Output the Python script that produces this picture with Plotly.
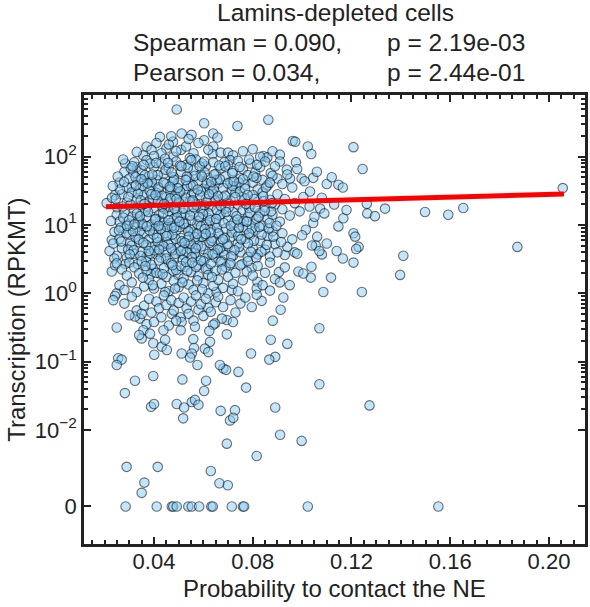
import math
import plotly.graph_objects as go

# ---------------- data (contact probability, log10 RPKMT) ----------------
genes_above_100 = [
    (0.0492, 2.69), (0.0863, 2.54), (0.0603, 2.49), (0.0738, 2.45), (0.0512, 2.34), (0.0552, 2.32),
    (0.0640, 2.34), (0.0424, 2.29), (0.0657, 2.28), (0.0603, 2.24), (0.0477, 2.22), (0.0410, 2.20),
    (0.0962, 2.23), (0.0972, 2.22), (0.0370, 2.15), (0.0450, 2.12), (0.0390, 2.10), (0.0510, 2.10),
    (0.0640, 2.15), (0.1023, 2.15), (0.1208, 2.14), (0.0800, 2.11), (0.0638, 2.04), (0.1037, 2.04),
    (0.0356, 2.02), (0.0478, 2.00), (0.0843, 2.01), (0.0859, 1.99), (0.0830, 2.00), (0.0430, 2.05),
    (0.0460, 2.18), (0.0490, 2.08), (0.0530, 2.15), (0.0560, 2.05), (0.0580, 2.20), (0.0620, 2.10),
    (0.0670, 2.06), (0.0700, 2.06), (0.0720, 2.02), (0.0760, 2.08), (0.0540, 2.26), (0.0470, 2.30),
    (0.0880, 2.08), (0.0910, 2.03), (0.0330, 2.07), (0.0400, 2.01),
]

genes_30_to_100 = [
    (0.0283, 1.90), (0.0316, 1.76), (0.0343, 1.66), (0.0310, 1.56), (0.0330, 1.85), (0.1245, 1.82),
    (0.0975, 1.92), (0.0910, 1.93), (0.0938, 1.81), (0.0708, 1.95), (0.0873, 1.76), (0.0900, 1.68),
    (0.0951, 1.68), (0.0998, 1.68), (0.1045, 1.69), (0.1100, 1.60), (0.1147, 1.59), (0.1165, 1.55),
    (0.2056, 1.54), (0.0260, 1.62), (0.0280, 1.78), (0.0290, 1.55), (0.0300, 1.68), (0.0320, 1.92),
    (0.0340, 1.52), (0.0350, 1.80), (0.0360, 1.64), (0.0370, 1.95), (0.0380, 1.71), (0.0390, 1.58),
    (0.0400, 1.85), (0.0410, 1.66), (0.0420, 1.52), (0.0430, 1.90), (0.0440, 1.75), (0.0450, 1.60),
    (0.0460, 1.83), (0.0470, 1.55), (0.0480, 1.70), (0.0490, 1.93), (0.0500, 1.62), (0.0510, 1.78),
    (0.0520, 1.51), (0.0530, 1.88), (0.0540, 1.68), (0.0550, 1.57), (0.0560, 1.80), (0.0570, 1.96),
    (0.0580, 1.64), (0.0590, 1.74), (0.0600, 1.53), (0.0610, 1.86), (0.0620, 1.69), (0.0630, 1.58),
    (0.0640, 1.92), (0.0650, 1.75), (0.0660, 1.61), (0.0670, 1.83), (0.0680, 1.54), (0.0690, 1.71),
    (0.0700, 1.88), (0.0710, 1.63), (0.0720, 1.79), (0.0730, 1.56), (0.0740, 1.94), (0.0750, 1.68),
    (0.0760, 1.82), (0.0770, 1.59), (0.0780, 1.73), (0.0790, 1.90), (0.0800, 1.62), (0.0810, 1.77),
    (0.0820, 1.52), (0.0830, 1.85), (0.0840, 1.66), (0.0850, 1.93), (0.0860, 1.58), (0.0880, 1.72),
    (0.0890, 1.86), (0.0920, 1.60), (0.0940, 1.74), (0.0960, 1.55), (0.0980, 1.82), (0.1010, 1.64),
    (0.1060, 1.78), (0.1120, 1.70), (0.0415, 1.73), (0.0445, 1.97), (0.0475, 1.63), (0.0505, 1.87),
    (0.0535, 1.57), (0.0565, 1.72), (0.0595, 1.90), (0.0625, 1.55), (0.0655, 1.66), (0.0685, 1.92),
    (0.0715, 1.52), (0.0385, 1.90), (0.0355, 1.57), (0.0325, 1.70), (0.0465, 1.52), (0.0545, 1.98),
    (0.0605, 1.77), (0.0745, 1.62), (0.0785, 1.96), (0.0815, 1.69), (0.0275, 1.96),
]

genes_10_to_30 = [
    (0.0242, 1.44), (0.0208, 1.32), (0.0249, 1.15), (0.1262, 1.31), (0.1264, 1.17), (0.1295, 1.13),
    (0.1073, 1.24), (0.1090, 1.17), (0.1167, 1.10), (0.1005, 1.41), (0.1032, 1.49), (0.1336, 1.24),
    (0.1498, 1.19), (0.1592, 1.15), (0.1653, 1.25), (0.1045, 1.03), (0.0230, 1.40), (0.0250, 1.26),
    (0.0260, 1.05), (0.0270, 1.45), (0.0280, 1.18), (0.0290, 1.33), (0.0300, 1.02), (0.0310, 1.48),
    (0.0320, 1.22), (0.0330, 1.37), (0.0340, 1.08), (0.0350, 1.29), (0.0360, 1.44), (0.0370, 1.12),
    (0.0380, 1.35), (0.0390, 1.01), (0.0400, 1.25), (0.0410, 1.47), (0.0420, 1.15), (0.0430, 1.32),
    (0.0440, 1.04), (0.0450, 1.41), (0.0460, 1.20), (0.0470, 1.36), (0.0480, 1.09), (0.0490, 1.28),
    (0.0500, 1.46), (0.0510, 1.13), (0.0520, 1.34), (0.0530, 1.02), (0.0540, 1.23), (0.0550, 1.42),
    (0.0560, 1.17), (0.0570, 1.31), (0.0580, 1.06), (0.0590, 1.49), (0.0600, 1.21), (0.0610, 1.38),
    (0.0620, 1.10), (0.0630, 1.27), (0.0640, 1.45), (0.0650, 1.03), (0.0660, 1.33), (0.0670, 1.16),
    (0.0680, 1.40), (0.0690, 1.24), (0.0700, 1.07), (0.0710, 1.36), (0.0720, 1.19), (0.0730, 1.47),
    (0.0740, 1.30), (0.0750, 1.05), (0.0760, 1.22), (0.0770, 1.39), (0.0780, 1.12), (0.0790, 1.28),
    (0.0800, 1.44), (0.0810, 1.02), (0.0820, 1.34), (0.0830, 1.18), (0.0840, 1.48), (0.0850, 1.26),
    (0.0860, 1.08), (0.0870, 1.37), (0.0880, 1.15), (0.0890, 1.30), (0.0900, 1.45), (0.0910, 1.05),
    (0.0920, 1.23), (0.0930, 1.38), (0.0950, 1.14), (0.0970, 1.32), (0.0990, 1.20), (0.1030, 1.27),
    (0.1050, 1.12), (0.1080, 1.40), (0.1130, 1.30), (0.1180, 1.22), (0.0245, 1.38), (0.0275, 1.11),
    (0.0305, 1.30), (0.0335, 1.46), (0.0365, 1.21), (0.0395, 1.39), (0.0425, 1.06), (0.0455, 1.26),
    (0.0485, 1.43), (0.0515, 1.18), (0.0545, 1.35), (0.0575, 1.01), (0.0605, 1.29), (0.0635, 1.48),
    (0.0665, 1.14), (0.0695, 1.32), (0.0725, 1.04), (0.0755, 1.41), (0.0785, 1.25), (0.0815, 1.09),
    (0.0845, 1.35), (0.0875, 1.20), (0.0372, 1.27), (0.0408, 1.09), (0.0432, 1.43), (0.0468, 1.03),
    (0.0492, 1.19), (0.0528, 1.40), (0.0552, 1.07), (0.0588, 1.24), (0.0612, 1.01), (0.0648, 1.36),
    (0.0382, 1.50), (0.0442, 1.24), (0.0502, 1.33), (0.0562, 1.47), (0.0622, 1.17),
]

genes_3_to_10 = [
    (0.0229, 0.78), (0.0303, 0.74), (0.1015, 0.93), (0.1061, 0.83), (0.1100, 0.73), (0.1208, 0.88),
    (0.1215, 0.83), (0.1229, 0.68), (0.1147, 0.98), (0.1872, 0.68), (0.1410, 0.55), (0.1165, 0.51),
    (0.1219, 0.65), (0.1055, 0.70), (0.1080, 0.57), (0.1140, 0.62), (0.0930, 0.56), (0.0970, 0.60),
    (0.0220, 0.62), (0.0240, 0.90), (0.0250, 0.55), (0.0260, 0.80), (0.0270, 0.66), (0.0280, 0.95),
    (0.0290, 0.52), (0.0300, 0.86), (0.0310, 0.70), (0.0320, 0.58), (0.0330, 0.97), (0.0340, 0.75),
    (0.0350, 0.61), (0.0360, 0.88), (0.0370, 0.53), (0.0380, 0.79), (0.0390, 0.68), (0.0400, 0.94),
    (0.0410, 0.57), (0.0420, 0.83), (0.0430, 0.71), (0.0440, 0.99), (0.0450, 0.60), (0.0460, 0.85),
    (0.0470, 0.74), (0.0480, 0.51), (0.0490, 0.92), (0.0500, 0.67), (0.0510, 0.81), (0.0520, 0.56),
    (0.0530, 0.96), (0.0540, 0.72), (0.0550, 0.63), (0.0560, 0.89), (0.0570, 0.54), (0.0580, 0.78),
    (0.0590, 0.98), (0.0600, 0.65), (0.0610, 0.84), (0.0620, 0.58), (0.0630, 0.93), (0.0640, 0.70),
    (0.0650, 0.52), (0.0660, 0.87), (0.0670, 0.76), (0.0680, 0.62), (0.0690, 0.95), (0.0700, 0.69),
    (0.0710, 0.82), (0.0720, 0.55), (0.0730, 0.90), (0.0740, 0.73), (0.0750, 0.60), (0.0760, 0.97),
    (0.0770, 0.80), (0.0780, 0.53), (0.0790, 0.86), (0.0800, 0.66), (0.0810, 0.92), (0.0820, 0.57),
    (0.0830, 0.77), (0.0840, 0.99), (0.0850, 0.64), (0.0860, 0.84), (0.0870, 0.54), (0.0880, 0.91),
    (0.0890, 0.72), (0.0900, 0.60), (0.0920, 0.88), (0.0940, 0.68), (0.0960, 0.79), (0.0980, 0.58),
    (0.1000, 0.85), (0.1040, 0.70), (0.1070, 0.62), (0.0235, 0.73), (0.0265, 0.96), (0.0295, 0.64),
    (0.0325, 0.82), (0.0355, 0.99), (0.0385, 0.58), (0.0415, 0.75), (0.0445, 0.88), (0.0475, 0.63),
    (0.0505, 0.97), (0.0535, 0.78), (0.0565, 0.59), (0.0595, 0.83), (0.0625, 0.74), (0.0655, 0.96),
    (0.0685, 0.56), (0.0715, 0.89), (0.0745, 0.68), (0.0775, 0.94), (0.0805, 0.77), (0.0835, 0.61),
    (0.0865, 0.95), (0.0915, 0.75), (0.0368, 0.71), (0.0398, 0.86), (0.0428, 0.52), (0.0458, 0.72),
    (0.0488, 0.80), (0.0518, 0.64), (0.0548, 0.93), (0.0578, 0.70), (0.0608, 0.51), (0.0638, 0.81),
    (0.0668, 0.66), (0.0342, 0.91), (0.0472, 0.98), (0.0532, 0.60),
]

genes_dense_core = [
    (0.0262, 1.52), (0.0288, 0.88), (0.0296, 1.41), (0.0312, 1.12), (0.0318, 0.63), (0.0327, 1.58),
    (0.0338, 0.79), (0.0346, 1.36), (0.0352, 1.02), (0.0363, 1.73), (0.0368, 0.47), (0.0376, 1.19),
    (0.0383, 0.92), (0.0391, 1.63), (0.0396, 0.36), (0.0404, 1.08), (0.0412, 0.81), (0.0418, 1.55),
    (0.0424, 0.29), (0.0433, 1.27), (0.0438, 0.69), (0.0447, 1.81), (0.0453, 0.97), (0.0462, 0.44),
    (0.0466, 1.39), (0.0474, 0.86), (0.0481, 1.66), (0.0487, 0.58), (0.0494, 1.11), (0.0498, 0.27),
    (0.0506, 1.49), (0.0513, 0.76), (0.0519, 1.24), (0.0526, 0.39), (0.0533, 1.71), (0.0539, 0.91),
    (0.0546, 1.14), (0.0553, 0.53), (0.0558, 1.58), (0.0566, 0.82), (0.0572, 1.29), (0.0579, 0.41),
    (0.0585, 1.86), (0.0592, 0.69), (0.0598, 1.16), (0.0606, 0.94), (0.0613, 1.61), (0.0618, 0.35),
    (0.0627, 1.07), (0.0633, 0.77), (0.0641, 1.52), (0.0647, 0.59), (0.0654, 1.22), (0.0661, 0.88),
    (0.0667, 1.67), (0.0674, 0.47), (0.0682, 1.03), (0.0688, 1.43), (0.0697, 0.72), (0.0703, 1.26),
    (0.0711, 0.99), (0.0718, 1.57), (0.0726, 0.63), (0.0734, 1.13), (0.0741, 0.84), (0.0748, 1.49),
    (0.0757, 0.43), (0.0764, 1.06), (0.0772, 1.31), (0.0781, 0.73), (0.0788, 1.18), (0.0797, 0.95),
    (0.0806, 1.38), (0.0814, 0.52), (0.0823, 1.12), (0.0836, 0.86), (0.0848, 1.21), (0.0857, 0.71),
    (0.0868, 1.03), (0.0883, 0.83), (0.0258, 0.92), (0.0273, 1.27), (0.0284, 0.43), (0.0299, 1.07),
    (0.0306, 1.83), (0.0315, 0.91), (0.0331, 1.17), (0.0345, 0.55), (0.0358, 1.88), (0.0371, 0.98),
    (0.0389, 1.45), (0.0402, 0.63), (0.0416, 1.35), (0.0427, 0.94), (0.0439, 1.62), (0.0449, 0.51),
    (0.0458, 1.07), (0.0471, 1.77), (0.0482, 0.96), (0.0496, 1.54), (0.0509, 0.62), (0.0521, 1.02),
    (0.0537, 1.84), (0.0549, 0.73), (0.0561, 1.26), (0.0574, 0.87), (0.0587, 1.44), (0.0601, 0.47),
    (0.0616, 1.33), (0.0629, 0.89), (0.0644, 1.74), (0.0658, 0.64), (0.0671, 1.28), (0.0686, 0.81),
    (0.0699, 1.61), (0.0713, 0.54), (0.0729, 1.41), (0.0744, 0.96), (0.0761, 1.67), (0.0776, 1.05),
    (0.0792, 0.61), (0.0809, 1.26), (0.0827, 0.97), (0.0853, 1.55), (0.0878, 1.32), (0.0896, 0.99),
    (0.0343, 1.13), (0.0357, 0.74), (0.0374, 1.61), (0.0387, 0.28), (0.0409, 1.91), (0.0421, 0.64),
    (0.0437, 1.17), (0.0451, 0.84), (0.0464, 1.56), (0.0478, 0.33), (0.0491, 1.38), (0.0503, 1.05),
    (0.0517, 0.49), (0.0529, 1.66), (0.0541, 0.83), (0.0556, 1.36), (0.0569, 0.66), (0.0582, 1.12),
    (0.0594, 1.71), (0.0609, 0.87), (0.0623, 1.45), (0.0637, 0.57), (0.0652, 1.09), (0.0664, 1.87),
    (0.0679, 0.79), (0.0692, 1.19), (0.0707, 0.41), (0.0723, 1.64), (0.0738, 1.08), (0.0753, 0.79),
    (0.0769, 1.53), (0.0785, 0.88), (0.0803, 1.71), (0.0226, 1.06), (0.0233, 1.57), (0.0239, 0.51),
    (0.0253, 1.71), (0.0267, 0.76), (0.0279, 1.63), (0.0291, 0.99), (0.0302, 0.57), (0.0313, 1.86),
    (0.0321, 1.01), (0.0334, 0.43), (0.0349, 1.67), (0.0361, 1.31), (0.0379, 0.62), (0.0393, 1.74),
    (0.0406, 1.44), (0.0419, 0.99), (0.0441, 1.31), (0.0457, 1.91), (0.0469, 0.66), (0.0483, 1.24),
    (0.0511, 1.86), (0.0524, 0.74), (0.0551, 1.95), (0.0577, 1.52), (0.0603, 1.93), (0.0632, 1.63),
    (0.0659, 1.42), (0.0689, 1.86), (0.0717, 1.76), (0.0747, 1.85), (0.0779, 1.44), (0.0818, 1.88),
    (0.0842, 1.42), (0.0869, 1.62),
]

genes_1_to_3 = [
    (0.0229, 0.32), (0.0242, 0.41), (0.0249, 0.44), (0.0249, 0.00), (0.1242, 0.02), (0.1086, 0.02),
    (0.1117, 0.23), (0.1208, 0.45), (0.1397, 0.27), (0.1035, 0.23), (0.0985, 0.32), (0.1005, 0.29),
    (0.1038, 0.39), (0.0906, 0.31), (0.0890, 0.21), (0.0910, 0.16), (0.0870, 0.04), (0.0819, 0.17),
    (0.0816, 0.07), (0.0796, 0.37), (0.0776, 0.32), (0.0715, 0.05), (0.0651, 0.02), (0.0620, 0.00),
    (0.0260, 0.12), (0.0270, 0.35), (0.0280, 0.05), (0.0290, 0.26), (0.0300, 0.45), (0.0310, 0.16),
    (0.0320, 0.38), (0.0330, 0.02), (0.0340, 0.29), (0.0350, 0.47), (0.0360, 0.10), (0.0370, 0.33),
    (0.0380, 0.20), (0.0390, 0.42), (0.0400, 0.07), (0.0410, 0.30), (0.0420, 0.48), (0.0430, 0.14),
    (0.0440, 0.37), (0.0450, 0.24), (0.0460, 0.03), (0.0470, 0.44), (0.0480, 0.18), (0.0490, 0.34),
    (0.0500, 0.09), (0.0510, 0.40), (0.0520, 0.22), (0.0530, 0.46), (0.0540, 0.13), (0.0550, 0.31),
    (0.0560, 0.05), (0.0570, 0.39), (0.0580, 0.25), (0.0590, 0.48), (0.0600, 0.15), (0.0610, 0.36),
    (0.0620, 0.27), (0.0630, 0.43), (0.0640, 0.11), (0.0650, 0.33), (0.0660, 0.20), (0.0670, 0.46),
    (0.0680, 0.08), (0.0690, 0.38), (0.0700, 0.24), (0.0710, 0.44), (0.0720, 0.14), (0.0730, 0.30),
    (0.0740, 0.03), (0.0750, 0.41), (0.0760, 0.19), (0.0780, 0.47), (0.0800, 0.26), (0.0820, 0.40),
    (0.0840, 0.12), (0.0850, 0.30), (0.0870, 0.45), (0.0930, 0.38), (0.0950, 0.12), (0.0355, 0.23),
    (0.0395, 0.12), (0.0435, 0.28), (0.0475, 0.41), (0.0515, 0.16), (0.0555, 0.45), (0.0595, 0.06),
    (0.0635, 0.24), (0.0675, 0.35), (0.0445, 0.02), (0.0365, 0.40), (0.0535, 0.33), (0.0485, 0.07),
    (0.0575, 0.19),
]

genes_03_to_1 = [
    (0.0242, -0.04), (0.0235, -0.10), (0.0330, -0.25), (0.0343, -0.37), (0.0323, -0.34), (0.0472, -0.30),
    (0.0508, -0.35), (0.0512, -0.42), (0.0796, -0.20), (0.0836, -0.11), (0.0816, -0.02), (0.0881, -0.40),
    (0.0913, -0.24), (0.0924, -0.06), (0.0695, -0.39), (0.0675, -0.37), (0.0620, -0.21), (0.0580, -0.24),
    (0.0532, -0.22), (0.0647, -0.44), (0.0249, -0.50), (0.0280, -0.15), (0.0300, -0.32), (0.0310, -0.05),
    (0.0360, -0.18), (0.0370, -0.45), (0.0380, -0.08), (0.0390, -0.28), (0.0400, -0.42), (0.0410, -0.12),
    (0.0420, -0.22), (0.0430, -0.35), (0.0440, -0.03), (0.0450, -0.17), (0.0460, -0.47), (0.0470, -0.10),
    (0.0480, -0.25), (0.0490, -0.40), (0.0500, -0.14), (0.0520, -0.06), (0.0540, -0.30), (0.0550, -0.12),
    (0.0560, -0.40), (0.0570, -0.03), (0.0590, -0.16), (0.0600, -0.33), (0.0610, -0.08), (0.0630, -0.27),
    (0.0650, -0.13), (0.0660, -0.05), (0.0680, -0.20), (0.0710, -0.10), (0.0730, -0.28), (0.0750, -0.15),
    (0.0770, -0.06), (0.0720, -0.42), (0.0350, -0.30),
]

genes_01_to_03 = [
    (0.0255, -0.95), (0.0269, -0.97), (0.0357, -0.54), (0.0384, -0.59), (0.0350, -0.66), (0.0340, -0.61),
    (0.0397, -0.73), (0.0431, -0.78), (0.0445, -0.68), (0.0452, -0.83), (0.0401, -0.90), (0.0438, -0.54),
    (0.0508, -0.54), (0.0559, -0.67), (0.0562, -0.80), (0.0553, -0.88), (0.0546, -0.94), (0.0640, -0.46),
    (0.0624, -0.55), (0.0566, -0.49), (0.0695, -0.60), (0.0627, -0.71), (0.0606, -0.81), (0.0620, -0.86),
    (0.0512, -0.88), (0.0940, -0.74), (0.0873, -0.68), (0.0891, -0.93), (0.0867, -0.97), (0.1070, -0.51),
    (0.0793, -0.88),
]

genes_below_01 = [
    (0.0249, -1.05), (0.0282, -1.46), (0.0323, -1.28), (0.0397, -1.21), (0.0742, -1.15), (0.0773, -1.38),
    (0.0891, -1.67), (0.0681, -1.10), (0.0692, -1.12), (0.0667, -1.05), (0.0611, -1.28), (0.0603, -1.43),
    (0.0670, -1.72), (0.0728, -1.71), (0.1070, -1.33), (0.1273, -1.64), (0.0388, -1.66), (0.0400, -1.62),
    (0.0911, -2.07), (0.0998, -2.16), (0.0816, -2.38), (0.0695, -2.20), (0.0708, -1.86), (0.0721, -1.82),
    (0.0630, -2.60), (0.0665, -2.78), (0.0699, -2.81), (0.0289, -2.54), (0.0415, -2.54), (0.0361, -2.77),
    (0.0350, -2.92), (0.0576, -1.05), (0.0515, -1.26), (0.0492, -1.62), (0.0522, -1.67), (0.0553, -1.59),
    (0.0566, -1.56), (0.0580, -1.63), (0.0518, -1.83),
]

# genes with RPKMT == 0
zero_contact_prob = [0.0285, 0.0411, 0.0472, 0.0478, 0.0492, 0.0539, 0.0553, 0.0583, 0.0632, 0.0638,
                     0.0715, 0.0760, 0.0765, 0.1023, 0.1552]

# regression line end points (contact probability, RPKMT)
fit_contact_prob = [0.0205, 0.2061]
fit_rpkmt = [18.5, 28.5]

x_tick_vals = [0.04, 0.08, 0.12, 0.16, 0.20]
x_tick_text = ["0.04", "0.08", "0.12", "0.16", "0.20"]
ZERO_LEVEL = -3.12  # axis position where RPKMT == 0 genes are drawn
y_tick_vals = [ZERO_LEVEL, -2, -1, 0, 1, 2]
y_tick_text = ["0", "10<sup>−2</sup>", "10<sup>−1</sup>", "10<sup>0</sup>", "10<sup>1</sup>", "10<sup>2</sup>"]

title_line1 = "Lamins-depleted cells"
stat_names = ["Spearman = 0.090,", "Pearson = 0.034,"]
stat_pvals = ["p = 2.19e-03", "p = 2.44e-01"]
x_label = "Probability to contact the NE"
y_label = "Transcription (RPKMT)"

# ---------------- figure ----------------
bands = [genes_above_100, genes_30_to_100, genes_10_to_30, genes_3_to_10, genes_dense_core,
         genes_1_to_3, genes_03_to_1, genes_01_to_03, genes_below_01]
xs, ys = [], []
for band in bands:
    for cx, ly in band:
        xs.append(cx)
        ys.append(ly)
for cx in zero_contact_prob:
    xs.append(cx)
    ys.append(ZERO_LEVEL)

INK = "#222222"
FONT = "Liberation Sans, Arial, Helvetica, sans-serif"

fig = go.Figure()
fig.add_trace(go.Scatter(
    x=xs, y=ys, mode="markers", hoverinfo="skip",
    marker=dict(size=9.5, color="rgba(135,206,250,0.5)",
                line=dict(color="rgba(0,0,0,0.55)", width=1.1)),
))
fig.add_trace(go.Scatter(
    x=fit_contact_prob, y=[math.log10(v) for v in fit_rpkmt], mode="lines",
    line=dict(color="#ff0000", width=5), hoverinfo="skip",
))

y_minor = []
for d in range(-2, 3):
    for k in range(2, 10):
        v = d + math.log10(k)
        if v < 2.9:
            y_minor.append(v)

axis_common = dict(
    ticks="inside", ticklen=7, tickwidth=1.8, tickcolor=INK,
    showline=True, linewidth=2.5, linecolor=INK, mirror="ticks",
    showgrid=False, zeroline=False, automargin=False,
    tickfont=dict(size=22, color=INK, family=FONT),
)

fig.update_layout(
    width=590, height=607,
    margin=dict(l=84, r=5, t=95, b=63, autoexpand=False),
    plot_bgcolor="white", paper_bgcolor="white",
    showlegend=False,
    font=dict(family=FONT, size=22, color=INK),
    xaxis=dict(range=[0.01164, 0.2146], tickmode="array", tickvals=x_tick_vals, ticktext=x_tick_text,
               ticklabelstandoff=-4,
               minor=dict(dtick=0.005, tick0=0, ticks="inside", ticklen=4, tickwidth=1.5,
                          tickcolor=INK, showgrid=False),
               **axis_common),
    yaxis=dict(range=[-3.669, 2.903], tickmode="array", tickvals=y_tick_vals, ticktext=y_tick_text,
               minor=dict(tickmode="array", tickvals=y_minor, ticks="inside", ticklen=4, tickwidth=1.5,
                          tickcolor=INK, showgrid=False),
               **axis_common),
)

ann = []
ann.append(dict(text=title_line1, x=0.501, y=1.183, xref="paper", yref="paper",
                xanchor="center", yanchor="middle", showarrow=False, font=dict(size=24.5)))
for i, (nm, pv) in enumerate(zip(stat_names, stat_pvals)):
    yy = 1.116 - i * 0.0668
    ann.append(dict(text=nm, x=0.094, y=yy, xref="paper", yref="paper",
                    xanchor="left", yanchor="middle", showarrow=False, font=dict(size=24.5)))
    ann.append(dict(text=pv, x=0.601, y=yy, xref="paper", yref="paper",
                    xanchor="left", yanchor="middle", showarrow=False, font=dict(size=24.5)))
ann.append(dict(text=x_label, x=0.5, y=-0.1, xref="paper", yref="paper",
                xanchor="center", yanchor="middle", showarrow=False, font=dict(size=24)))
ann.append(dict(text=y_label, x=-0.135, y=0.5, xref="paper", yref="paper", textangle=-90,
                xanchor="center", yanchor="middle", showarrow=False, font=dict(size=24)))
fig.update_layout(annotations=ann)

# the page's default 8px body margin would shift the figure; remove it
fig.write_html("out.html", config={"displayModeBar": False},
               post_script="document.body.style.margin='0px';")
